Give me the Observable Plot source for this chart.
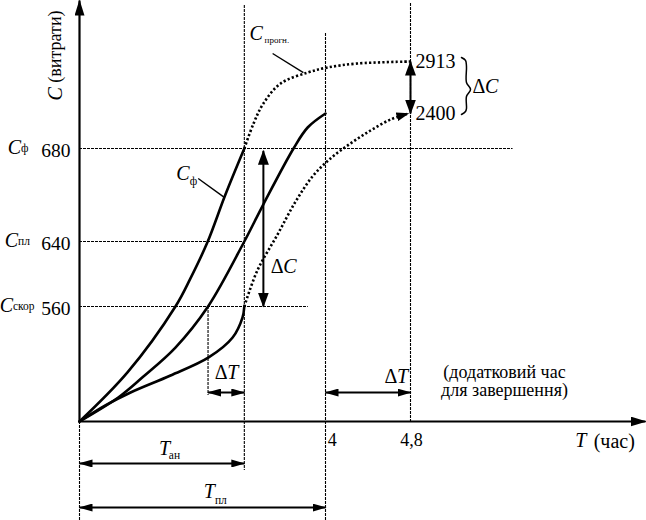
<!DOCTYPE html>
<html>
<head>
<meta charset="utf-8">
<script src="https://cdn.jsdelivr.net/npm/d3@7"></script>
<script src="https://cdn.jsdelivr.net/npm/@observablehq/plot@0.6"></script>
<style>
  html, body { margin: 0; padding: 0; background: #fff; }
  #chart svg { display: block; }
  #chart svg text { font-family: "Liberation Serif", "Times New Roman", serif !important; }
</style>
</head>
<body>
<div id="chart"></div>
<script>
// ---------- data (schematic earned-value chart) ----------
const T_NOW = 2.68;            // T_ан (analysis moment)
const T_PLAN = 4;              // T_пл
const T_FORECAST = 4.8;        // forecast finish
const timeTicks = [4, 4.8];
const timeTickLabels = ["4", "4,8"];
const costTicks = [680, 640, 560];
const costTickNames = ["ф", "пл", "скор"];
const forecastValues = [2913, 2400];

// schematic (piecewise) axis breaks
const xBreaks = [-1.3, 0, 4, 4.8, 7];
const yBreaks = [-1000, 0, 560, 640, 680, 2400, 2913, 3500];

// C_ф — actual cost
const tActual = [0, 0.78, 1.56, 1.80, 2.08, 2.37, 2.68];
const cActual = [0, 239, 560, 594, 639, 660, 680];
// C_пл — planned cost
const tPlan = [0, 0.63, 1.02, 1.56, 2.09, 2.68, 2.99, 3.48, 3.71, 4];
const cPlan = [0, 117, 214, 360, 560, 640, 656, 680, 1712, 2400];
// C_скор — earned value
const tEarned = [0, 0.42, 0.83, 1.48, 2.10, 2.49, 2.65, 2.68];
const cEarned = [0, 78, 141, 224, 312, 409, 506, 560];
// earned value forecast (dotted)
const tEarnedFc = [2.68, 2.89, 3.22, 3.51, 3.79, 4.047, 4.235, 4.424, 4.612, 4.78];
const cEarnedFc = [560, 604, 643, 657, 668, 675.7, 926, 1565, 2105, 2400];
// C_прогн — cost forecast (dotted)
const tCostFc = [2.68, 2.83, 2.99, 3.27, 3.71, 4.02, 4.30, 4.8];
const cCostFc = [680, 1909, 2499, 2696, 2804, 2854, 2893, 2913];
// brace next to 2913 / 2400
const tBrace = [5.277, 5.315, 5.324, 5.324, 5.362, 5.324, 5.324, 5.315, 5.277];
const cBrace = [2951, 2923, 2864, 2706, 2637, 2568, 2449, 2420, 2351];

const rows = (ts, cs) => ts.map((t, i) => ({t, c: cs[i]}));

// reference lines
const hGrid = [
  {c: 680, t1: 0, t2: 5.76},
  {c: 640, t1: 0, t2: T_NOW},
  {c: 560, t1: 0, t2: 3.72}
];
const vGrid = [
  {t: T_NOW, c1: 3452, c2: -495},
  {t: T_PLAN, c1: 3182, c2: -1000},
  {t: T_FORECAST, c1: 3471, c2: 0},
  {t: 2.09, c1: 560, c2: 127},
  {t: 0, c1: 0, c2: -1000}
];
const axes = [
  {t1: 0, c1: 0, t2: 0, c2: 3500},
  {t1: 0, c1: 0, t2: 7, c2: 0}
];
const vArrows = [
  {t1: 2.99, c1: 560, t2: 2.99, c2: 679},
  {t1: T_FORECAST, c1: 2400, t2: T_FORECAST, c2: 2913}
];
const hArrows = [
  {t1: 2.09, c1: 141, t2: T_NOW, c2: 141},
  {t1: T_PLAN, c1: 141, t2: T_FORECAST, c2: 141},
  {t1: 0, c1: -424, t2: T_NOW, c2: -424},
  {t1: 0, c1: -869, t2: T_PLAN, c2: -869}
];
const leaders = [
  {t1: 3.14, c1: 2990, t2: 3.64, c2: 2804},
  {t1: 1.93, c1: 667.1, t2: 2.36, c2: 658.9}
];

// text labels
const italicEnd = [
  {s: "C", t: -0.954, c: 680, dy: 0},
  {s: "C", t: -1.004, c: 640, dy: 5},
  {s: "C", t: -1.086, c: 560, dy: 2},
  {s: "C", t: 2.99, c: 3173, dy: 0},
  {s: "C", t: 1.80, c: 668.8, dy: 0},
  {s: "T", t: 1.48, c: -283, dy: 0},
  {s: "T", t: 2.21, c: -717, dy: 0},
  {s: "T", t: 6.45, c: -202, dy: 0}
];
const deltaLabels = [
  {s: "C", t: 3.11, c: 609},
  {s: "C", t: 5.38, c: 2666},
  {s: "T", t: 2.20, c: 239},
  {s: "T", t: 4.555, c: 219}
];
const subLabels = [
  {s: costTickNames[0], t: -0.954, c: 680, dy: 5},
  {s: costTickNames[1], t: -1.004, c: 640, dy: 10},
  {s: costTickNames[2], t: -1.086, c: 560, dy: 7},
  {s: "ф", t: 1.80, c: 665.8, dy: 0},
  {s: "ан", t: 1.46, c: -343, dy: 0},
  {s: "пл", t: 2.21, c: -798, dy: 0}
];
const forecastSub = [{s: "прогн.", t: 3.01, c: 3115}];

// piecewise (schematic) position transforms, applied by Plot's scales
const xPiece = d3.scaleLinear().domain(xBreaks).range([0, 79, 325, 410, 645]);
const yPiece = d3.scaleLinear().domain(yBreaks).range([520, 421, 306, 241, 148, 113, 61, 0]);

// filled arrow-head marker
const SVGNS = "http://www.w3.org/2000/svg";
const head = (len, wid) => (color, context) => {
  const doc = (context && context.document) || document;
  const m = doc.createElementNS(SVGNS, "marker");
  m.setAttribute("viewBox", `0 ${-wid / 2} ${len} ${wid}`);
  m.setAttribute("refX", len - 1);
  m.setAttribute("refY", 0);
  m.setAttribute("markerWidth", len);
  m.setAttribute("markerHeight", wid);
  m.setAttribute("markerUnits", "userSpaceOnUse");
  m.setAttribute("orient", "auto-start-reverse");
  const p = doc.createElementNS(SVGNS, "path");
  p.setAttribute("d", `M0,${-wid / 2}L${len},0L0,${wid / 2}Z`);
  p.setAttribute("fill", "#000");
  p.setAttribute("stroke", "none");
  p.setAttribute("stroke-dasharray", "none");
  m.appendChild(p);
  return m;
};

const serif = "Liberation Serif";
const grid = {stroke: "#000", strokeWidth: 1.1, strokeDasharray: "3,1"};
const solid = {x: "t", y: "c", curve: "catmull-rom", stroke: "#000", strokeWidth: 2.6, strokeLinejoin: "round"};
const dotted = {...solid, strokeWidth: 2.6, strokeDasharray: "2.2,2.2", strokeLinecap: "butt"};
const txt = {fill: "#000", fontFamily: serif};

const chart = Plot.plot({
  width: 646,
  height: 520,
  margin: 0,
  x: {type: "linear", transform: xPiece, domain: [0, 646], range: [0, 646], axis: null},
  y: {type: "linear", transform: yPiece, domain: [0, 520], range: [0, 520], axis: null},
  style: {fontFamily: serif, background: "#fff", color: "#000"},
  marks: [
    // reference lines
    Plot.ruleY(hGrid, {y: "c", x1: "t1", x2: "t2", ...grid}),
    Plot.ruleX(vGrid, {x: "t", y1: "c1", y2: "c2", ...grid}),
    // axes
    Plot.link(axes, {x1: "t1", y1: "c1", x2: "t2", y2: "c2", stroke: "#000", strokeWidth: 2.2, markerEnd: head(16, 10)}),
    // curves
    Plot.line(rows(tActual, cActual), solid),
    Plot.line(rows(tPlan, cPlan), solid),
    Plot.line(rows(tEarned, cEarned), solid),
    Plot.line(rows(tEarnedFc, cEarnedFc), {...dotted, markerEnd: head(13, 9)}),
    Plot.line(rows(tCostFc, cCostFc), dotted),
    Plot.line(rows(tBrace, cBrace), {x: "t", y: "c", curve: "catmull-rom", stroke: "#000", strokeWidth: 1.5}),
    // dimension arrows
    Plot.link(vArrows, {x1: "t1", y1: "c1", x2: "t2", y2: "c2", stroke: "#000", strokeWidth: 2, markerStart: head(15, 11), markerEnd: head(15, 11)}),
    Plot.link(hArrows, {x1: "t1", y1: "c1", x2: "t2", y2: "c2", stroke: "#000", strokeWidth: 2, markerStart: head(14, 8), markerEnd: head(14, 8)}),
    Plot.link(leaders, {x1: "t1", y1: "c1", x2: "t2", y2: "c2", stroke: "#000", strokeWidth: 1.4}),
    // y tick labels
    Plot.text(costTicks, {x: -0.148, y: d => d, text: d => String(d), textAnchor: "end", fontSize: 19.5, dy: 2, ...txt}),
    // forecast values
    Plot.text(forecastValues, {x: 4.847, y: d => d, text: d => String(d), textAnchor: "start", fontSize: 20, ...txt}),
    // x tick labels
    Plot.text([timeTicks[1]], {x: d => d + 0.01, y: -192, text: () => timeTickLabels[1], textAnchor: "middle", fontSize: 18, ...txt}),
    Plot.text([timeTicks[0]], {x: d => d + 0.02, y: -192, text: () => timeTickLabels[0], textAnchor: "start", fontSize: 18, ...txt}),
    Plot.text(["(час)"], {x: 6.90, y: -202, text: d => d, textAnchor: "end", fontSize: 20, ...txt}),
    // italic letters
    Plot.text(italicEnd, {x: "t", y: "c", text: "s", dy: "dy", textAnchor: "end", fontSize: 20, fontStyle: "italic", ...txt}),
    Plot.text(deltaLabels, {x: "t", y: "c", text: () => "Δ", textAnchor: "start", fontSize: 20, ...txt}),
    Plot.text(deltaLabels, {x: "t", y: "c", text: "s", textAnchor: "start", dx: 12.5, fontSize: 20, fontStyle: "italic", ...txt}),
    Plot.text(subLabels, {x: "t", y: "c", text: "s", dy: "dy", textAnchor: "start", fontSize: 11.5, ...txt}),
    Plot.text(forecastSub, {x: "t", y: "c", text: "s", textAnchor: "start", fontSize: 9, ...txt}),
    // y axis title
    Plot.text(["C"], {x: -0.395, y: 2528, text: d => d, rotate: -90, textAnchor: "start", fontSize: 20, fontStyle: "italic", ...txt}),
    Plot.text(["(витрати)"], {x: -0.395, y: 3404, text: d => d, rotate: -90, textAnchor: "end", fontSize: 18, ...txt}),
    // note
    Plot.text(["(додатковий час\nдля завершення)"], {x: 5.68, y: 195, text: d => d, textAnchor: "middle", lineHeight: 1.0, fontSize: 18, ...txt})
  ]
});
document.getElementById("chart").appendChild(chart);
</script>
</body>
</html>
